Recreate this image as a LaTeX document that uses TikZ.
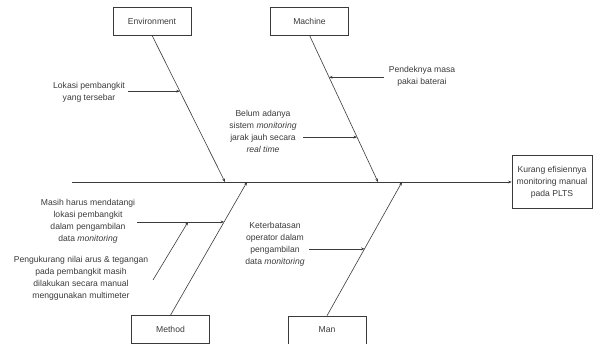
\documentclass[tikz,border=0pt]{standalone}
\usepackage{fontspec}
\setmainfont{Liberation Sans}
\usetikzlibrary{arrows.meta,calc}
\definecolor{ink}{HTML}{3A3A3A}
\begin{document}
\begin{tikzpicture}[x=1pt,y=-1pt,
  catbox/.style={draw=ink,line width=0.6pt,minimum width=78pt,minimum height=28pt,inner sep=0pt,text=ink,font=\fontsize{8.6}{12}\selectfont},
  lbl/.style={align=center,inner sep=0pt,text=ink,font=\fontsize{8.6}{12}\selectfont},
  bone/.style={draw=ink,line width=0.6pt},
  arr/.style={draw=ink,line width=0.6pt,-{Stealth[length=3.5pt,width=2.8pt]}}]
\useasboundingbox (0,0) rectangle (594,344);
% category boxes
\node[catbox] (env) at (152,21) {Environment};
\node[catbox] (mac) at (309.5,21) {Machine};
\node[catbox] (met) at (170.5,329.5) {Method};
\node[catbox] (man) at (327,330) {Man};
\node[catbox,minimum width=80pt,minimum height=53pt] (eff) at (552,181.5) {};
\node[lbl] (efft) at (552,182) {Kurang efisiennya\\monitoring manual\\pada PLTS};
% spine
\coordinate (sp0) at (72,182);
\draw[arr] (sp0) -- (eff.west |- sp0);
% bone ends on spine
\coordinate (e1) at (225,182);
\coordinate (m1) at (378,182);
\coordinate (t1) at (247,182);
\coordinate (n1) at (402,182);
\draw[arr] (env.south) -- (e1);
\draw[arr] (mac.south) -- (m1);
\draw[arr] (met.north) -- (t1);
\draw[arr] (man.north) -- (n1);
% points on bones
\coordinate (eb) at ($(env.south)!0.381!(e1)$);
\coordinate (mb1) at ($(mac.south)!0.286!(m1)$);
\coordinate (mb2) at ($(mac.south)!0.694!(m1)$);
\coordinate (tb) at ($(met.north)!0.70!(t1)$);
\coordinate (nb) at ($(man.north)!0.50!(n1)$);
% labels
\node[lbl] (lok) at (89,92) {Lokasi pembangkit\\yang tersebar};
\node[lbl] (bel) at (263,131.5) {Belum adanya\\sistem \textit{monitoring}\\jarak jauh secara\\\textit{real time}};
\node[lbl] (pen) at (422,76.5) {Pendeknya masa\\pakai baterai};
\node[lbl] (mas) at (88,221.5) {Masih harus mendatangi\\lokasi pembangkit\\dalam pengambilan\\data \textit{monitoring}};
\node[lbl] (peng) at (81,278.5) {Pengukurang nilai arus \& tegangan\\pada pembangkit masih\\dilakukan secara manual\\menggunakan multimeter};
\node[lbl] (ket) at (275,244) {Keterbatasan\\operator dalam\\pengambilan\\data \textit{monitoring}};
% sub arrows
\coordinate (lks) at (128,91);
\draw[arr] (lks |- eb) -- (eb);
\coordinate (bls) at (303,137);
\draw[arr] (bls |- mb2) -- (mb2);
\coordinate (pns) at (384,77);
\draw[arr] (pns |- mb1) -- (mb1);
\coordinate (mss) at (137,222);
\draw[arr] (mss |- tb) -- (tb);
\coordinate (kts) at (309,249);
\draw[arr] (kts |- nb) -- (nb);
\coordinate (pgs) at (153,280);
\coordinate (pge) at (188,0);
\draw[arr] (pgs) -- (pge |- tb);
\end{tikzpicture}
\end{document}
